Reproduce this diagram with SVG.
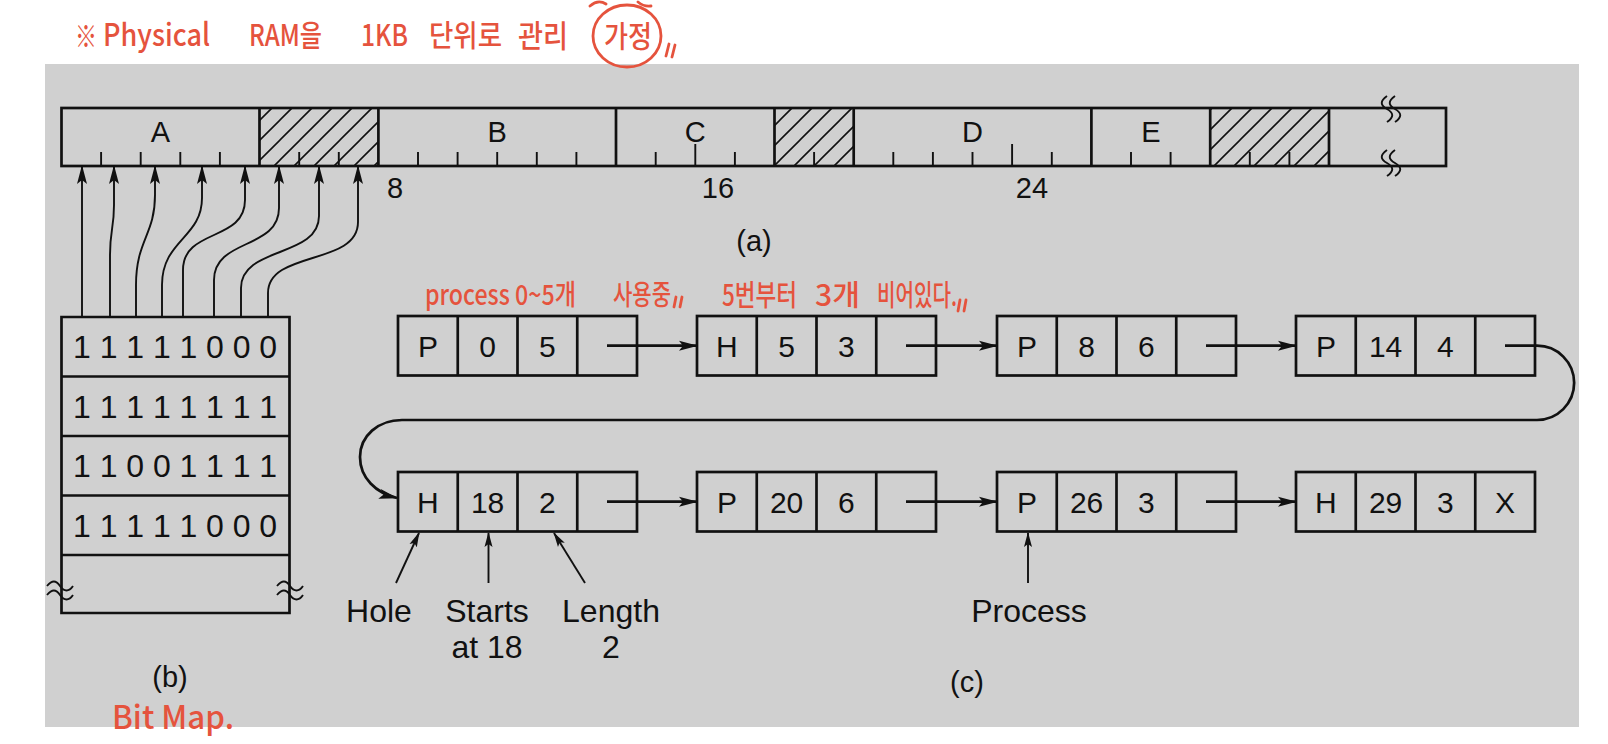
<svg xmlns="http://www.w3.org/2000/svg" width="1608" height="744" viewBox="0 0 1608 744">
<style>
.ln{fill:none;stroke:#111;stroke-width:2.7}
.thin{fill:none;stroke:#111;stroke-width:1.9}
.cell{fill:none;stroke:#111;stroke-width:2.7}
.t{font-family:"Liberation Sans",Arial,sans-serif;fill:#111;text-anchor:middle}
.lab{font-size:32px}
.seg{font-size:29px}
.cap{font-size:29px}
.nt{font-size:30px}
.bits{font-size:32px}
.red{font-family:"Noto Sans CJK KR","Noto Sans",sans-serif;fill:#e5533d;font-weight:500}
.rs{fill:none;stroke:#e5533d;stroke-width:2.8;stroke-linecap:round}
</style>
<defs>
<marker id="ah" markerWidth="19" markerHeight="11" refX="18" refY="5.5" orient="auto" markerUnits="userSpaceOnUse">
<path d="M0,0.5 L19,5.5 L0,10.5 L4,5.5 z" fill="#111"/>
</marker>
<marker id="ahs" markerWidth="15" markerHeight="9" refX="14" refY="4.5" orient="auto" markerUnits="userSpaceOnUse">
<path d="M0,0.5 L15,4.5 L0,8.5 L3,4.5 z" fill="#111"/>
</marker>
<pattern id="hatch" patternUnits="userSpaceOnUse" width="20" height="20">
<path d="M0,20 L20,0 M-5,5 L5,-5 M15,25 L25,15" stroke="#111" stroke-width="1.6"/>
</pattern>
</defs>

<rect x="45" y="64" width="1534" height="663" fill="#d0d0d0"/>

<!-- (a) memory bar -->
<g id="memory">
<rect x="259.5" y="108" width="118.9" height="58" fill="url(#hatch)"/>
<rect x="774.5" y="108" width="79.2" height="58" fill="url(#hatch)"/>
<rect x="1210.2" y="108" width="118.8" height="58" fill="url(#hatch)"/>
<rect class="ln" x="61.5" y="108" width="1384.5" height="58"/>
<path class="ln" d="M259.5,108V166M378.4,108V166M616,108V166M774.5,108V166M853.7,108V166M1091.4,108V166M1210.2,108V166M1329,108V166"/>
<path class="thin" d="M101.1,166v-14M140.7,166v-14M180.3,166v-14M219.9,166v-14M299.2,166v-14M338.8,166v-14M418,166v-14M457.6,166v-14M497.2,166v-14M536.8,166v-14M576.4,166v-14M655.7,166v-14M695.3,166v-22M734.9,166v-14M814.1,166v-14M893.3,166v-14M932.9,166v-14M972.5,166v-14M1012.1,166v-22M1051.8,166v-14M1131,166v-14M1170.6,166v-14M1249.8,166v-14M1289.4,166v-14"/>
<path class="thin" d="M1387,96c-7,5-7,9 0,13s7,8 0,13M1395,96c-7,5-7,9 0,13s7,8 0,13M1387,150c-7,5-7,9 0,13s7,8 0,13M1395,150c-7,5-7,9 0,13s7,8 0,13"/>
<text class="t seg" x="160.5" y="142">A</text>
<text class="t seg" x="497.2" y="142">B</text>
<text class="t seg" x="695.3" y="142">C</text>
<text class="t seg" x="972.5" y="142">D</text>
<text class="t seg" x="1150.8" y="142">E</text>
<text class="t seg" x="395" y="198">8</text>
<text class="t seg" x="718" y="198">16</text>
<text class="t seg" x="1032" y="198">24</text>
<text class="t cap" x="754" y="251">(a)</text>
</g>

<!-- (b) bitmap -->
<g id="bitmap">
<path class="ln" d="M61.5,317H289.5V613H61.5Z"/>
<path class="ln" d="M61.5,376.5H289.5M61.5,436H289.5M61.5,495.5H289.5M61.5,555H289.5"/>
<path class="thin" d="M47,586c5,-6 9,-6 13,0s9,6 13,0M47,595c5,-6 9,-6 13,0s9,6 13,0M277,586c5,-6 9,-6 13,0s9,6 13,0M277,595c5,-6 9,-6 13,0s9,6 13,0"/>
<text class="t bits" x="82 108.6 135.2 161.8 188.4 215 241.6 268.2" y="358">11111000</text>
<text class="t bits" x="82 108.6 135.2 161.8 188.4 215 241.6 268.2" y="417.5">11111111</text>
<text class="t bits" x="82 108.6 135.2 161.8 188.4 215 241.6 268.2" y="477">11001111</text>
<text class="t bits" x="82 108.6 135.2 161.8 188.4 215 241.6 268.2" y="536.5">11111000</text>
<text class="t cap" x="170" y="687">(b)</text>
</g>

<!-- bitmap to memory connectors -->
<g id="bit-connectors" class="thin" marker-end="url(#ah)">
<path d="M82,317V166"/>
<path d="M110,317V255C110,230 114,228 114,205V166"/>
<path d="M136,317V285C136,240 155,235 155,195V166"/>
<path d="M162,317V285C162,240 202,238 202,198V166"/>
<path d="M183,317V270C183,228 245,242 245,200V166"/>
<path d="M214,317V280C214,238 279,250 279,208V166"/>
<path d="M241,317V288C241,246 319,258 319,216V166"/>
<path d="M268,317V293C268,250 358,266 358,222V166"/>
</g>

<!-- (c) linked list nodes -->
<g id="n1" transform="translate(398,316)">
<rect class="cell" width="239" height="59.5"/><path class="cell" d="M59.75,0V59.5M119.5,0V59.5M179.25,0V59.5"/>
<text class="t nt" x="29.9" y="41">P</text><text class="t nt" x="89.6" y="41">0</text><text class="t nt" x="149.4" y="41">5</text>
</g>
<g id="n2" transform="translate(697,316)">
<rect class="cell" width="239" height="59.5"/><path class="cell" d="M59.75,0V59.5M119.5,0V59.5M179.25,0V59.5"/>
<text class="t nt" x="29.9" y="41">H</text><text class="t nt" x="89.6" y="41">5</text><text class="t nt" x="149.4" y="41">3</text>
</g>
<g id="n3" transform="translate(997,316)">
<rect class="cell" width="239" height="59.5"/><path class="cell" d="M59.75,0V59.5M119.5,0V59.5M179.25,0V59.5"/>
<text class="t nt" x="29.9" y="41">P</text><text class="t nt" x="89.6" y="41">8</text><text class="t nt" x="149.4" y="41">6</text>
</g>
<g id="n4" transform="translate(1296,316)">
<rect class="cell" width="239" height="59.5"/><path class="cell" d="M59.75,0V59.5M119.5,0V59.5M179.25,0V59.5"/>
<text class="t nt" x="29.9" y="41">P</text><text class="t nt" x="89.6" y="41">14</text><text class="t nt" x="149.4" y="41">4</text>
</g>
<g id="n5" transform="translate(398,472)">
<rect class="cell" width="239" height="59.5"/><path class="cell" d="M59.75,0V59.5M119.5,0V59.5M179.25,0V59.5"/>
<text class="t nt" x="29.9" y="41">H</text><text class="t nt" x="89.6" y="41">18</text><text class="t nt" x="149.4" y="41">2</text>
</g>
<g id="n6" transform="translate(697,472)">
<rect class="cell" width="239" height="59.5"/><path class="cell" d="M59.75,0V59.5M119.5,0V59.5M179.25,0V59.5"/>
<text class="t nt" x="29.9" y="41">P</text><text class="t nt" x="89.6" y="41">20</text><text class="t nt" x="149.4" y="41">6</text>
</g>
<g id="n7" transform="translate(997,472)">
<rect class="cell" width="239" height="59.5"/><path class="cell" d="M59.75,0V59.5M119.5,0V59.5M179.25,0V59.5"/>
<text class="t nt" x="29.9" y="41">P</text><text class="t nt" x="89.6" y="41">26</text><text class="t nt" x="149.4" y="41">3</text>
</g>
<g id="n8" transform="translate(1296,472)">
<rect class="cell" width="239" height="59.5"/><path class="cell" d="M59.75,0V59.5M119.5,0V59.5M179.25,0V59.5"/>
<text class="t nt" x="29.9" y="41">H</text><text class="t nt" x="89.6" y="41">29</text><text class="t nt" x="149.4" y="41">3</text><text class="t nt" x="209.1" y="41">X</text>
</g>

<g id="list-connectors" class="ln" marker-end="url(#ah)">
<path d="M607,345.7H697"/>
<path d="M906,345.7H997"/>
<path d="M1206,345.7H1296"/>
<path d="M1505,345.7H1537A37,37 0 0 1 1537,420H402C378,420 360,436 360,457C360,478 376,493 397,498"/>
<path d="M607,501.7H697"/>
<path d="M906,501.7H997"/>
<path d="M1206,501.7H1296"/>
</g>

<g id="legend-arrows" class="thin" marker-end="url(#ahs)">
<path d="M396,583L419,533"/>
<path d="M488.5,583V533"/>
<path d="M585,583L554,533"/>
<path d="M1028,583V533"/>
</g>

<g id="legend">
<text class="t lab" x="379" y="622">Hole</text>
<text class="t lab" x="487" y="622">Starts</text>
<text class="t lab" x="487" y="658">at 18</text>
<text class="t lab" x="611" y="622">Length</text>
<text class="t lab" x="611" y="658">2</text>
<text class="t lab" x="1029" y="622">Process</text>
<text class="t cap" x="967" y="692">(c)</text>
</g>

<!-- red handwritten annotations -->
<g id="note-title">
<text class="red" x="75" y="47" font-size="30" textLength="22" lengthAdjust="spacingAndGlyphs">※</text>
<text class="red" x="103" y="46" font-size="31" textLength="107" lengthAdjust="spacingAndGlyphs">Physical</text>
<text class="red" x="249" y="46" font-size="30" textLength="73" lengthAdjust="spacingAndGlyphs">RAM을</text>
<text class="red" x="361" y="46" font-size="30" textLength="47" lengthAdjust="spacingAndGlyphs">1KB</text>
<text class="red" x="429" y="46" font-size="30" textLength="73" lengthAdjust="spacingAndGlyphs">단위로</text>
<text class="red" x="518" y="47" font-size="31" textLength="50" lengthAdjust="spacingAndGlyphs">관리</text>
<text class="red" x="604" y="47" font-size="30" textLength="48" lengthAdjust="spacingAndGlyphs">가정</text>
<ellipse class="rs" cx="627" cy="36" rx="34" ry="31"/>
<path class="rs" d="M590,6q8,-7 16,-2M638,2q6,5 13,4M666,56L669,44M672,57L675,45"/>
</g>
<g id="note-p">
<text class="red" x="425" y="305" font-size="28" textLength="151" lengthAdjust="spacingAndGlyphs">process 0~5개</text>
<text class="red" x="613" y="305" font-size="28" textLength="58" lengthAdjust="spacingAndGlyphs">사용중</text>
<path class="rs" d="M674,307L676,297M680,307L682,297"/>
</g>
<g id="note-h">
<text class="red" x="722" y="306" font-size="29" textLength="75" lengthAdjust="spacingAndGlyphs">5번부터</text>
<text class="red" x="815" y="306" font-size="29" textLength="45" lengthAdjust="spacingAndGlyphs">3개</text>
<text class="red" x="877" y="306" font-size="29" textLength="80" lengthAdjust="spacingAndGlyphs">비어있다.</text>
<path class="rs" d="M958,311L960,300M964,311L966,300"/>
</g>
<g id="note-b">
<text class="red" x="112" y="729" font-size="32" textLength="122" lengthAdjust="spacingAndGlyphs">Bit Map.</text>
</g>
</svg>
